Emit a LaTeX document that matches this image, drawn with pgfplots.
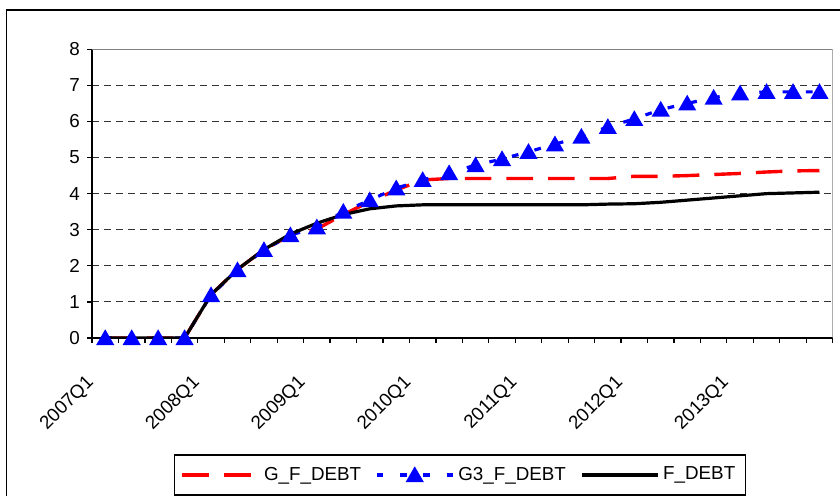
\documentclass[border=0pt]{standalone}
\usepackage{fontspec}
\setmainfont{Liberation Sans}
\usepackage{pgfplots}
\pgfplotsset{compat=1.18}
\definecolor{exred}{RGB}{255,0,0}
\definecolor{exblue}{RGB}{0,0,255}
\definecolor{exgray}{RGB}{128,128,128}
\begin{document}
\begin{tikzpicture}[x=1pt,y=1pt]
\useasboundingbox (0,0) rectangle (420,248);
\fill[white] (0,0) rectangle (420,248);
\draw[line width=0.6pt] (3.35,-5) -- (3.35,243) -- (425,243);
\begin{axis}[
  at={(46pt,79pt)}, anchor=south west,
  width=370.35pt, height=144.35pt, scale only axis,
  xmin=-0.5, xmax=27.5, ymin=0, ymax=8,
  axis x line*=bottom, axis y line*=left,
  axis line style={-, black, line width=0.6pt},
  xtick={-0.5,0.5,1.5,2.5,3.5,4.5,5.5,6.5,7.5,8.5,9.5,10.5,11.5,12.5,13.5,14.5,15.5,16.5,17.5,18.5,19.5,20.5,21.5,22.5,23.5,24.5,25.5,26.5,27.5},
  xticklabels={2007Q1,,,,2008Q1,,,,2009Q1,,,,2010Q1,,,,2011Q1,,,,2012Q1,,,,2013Q1,,,,},
  ytick={0,1,...,8},
  tick align=outside, major tick length=2.5pt,
  tick style={black, line width=0.6pt},
  ymajorgrids, grid style={black!80, line width=0.5pt, dash pattern=on 3.5pt off 2.5pt},
  tick label style={font=\fontsize{9.4}{11}\selectfont},
  /pgf/number format/assume math mode=true,
  xticklabel style={xshift=2pt, yshift=-16pt, rotate=45, anchor=east},
  legend columns=3,
  legend style={at={(axis description cs:0.1107,-0.403)}, anchor=north west,
    draw=black, line width=0.6pt, font=\fontsize{9.4}{11}\selectfont,
    inner xsep=3pt, inner ysep=4pt,
    /tikz/every even column/.append style={column sep=5pt}},
  legend image code/.code={\draw[mark repeat=2,mark phase=2,#1] plot coordinates {(0pt,0pt) (19pt,0pt) (38pt,0pt)};},
]
\addplot[exred, line width=1.7pt, dash pattern=on 13.3pt off 7.5pt] coordinates {
(0,0) (1,0) (2,0) (3,0) (4,1.2) (5,1.9) (6,2.45) (7,2.85) (8,3.02) (9,3.42)
(10,3.78) (11,4.1) (12,4.38) (13,4.42) (14,4.42) (15,4.42) (16,4.42) (17,4.42) (18,4.42) (19,4.42)
(20,4.48) (21,4.48) (22,4.5) (23,4.53) (24,4.56) (25,4.6) (26,4.63) (27,4.64)};
\addlegendentry{G\_F\_DEBT}
\addplot[exblue, line width=1.6pt, dash pattern=on 3.35pt off 8.3pt, mark=triangle*, mark size=3.65pt, mark options={solid, yshift=-0.9pt}] coordinates {
(0,0) (1,0) (2,0) (3,0) (4,1.19) (5,1.88) (6,2.44) (7,2.85) (8,3.07) (9,3.5)
(10,3.82) (11,4.15) (12,4.38) (13,4.57) (14,4.79) (15,4.96) (16,5.16) (17,5.37) (18,5.58) (19,5.85)
(20,6.07) (21,6.33) (22,6.5) (23,6.66) (24,6.78) (25,6.82) (26,6.82) (27,6.82)};
\addlegendentry{G3\_F\_DEBT}
\addplot[black, line width=1.6pt] coordinates {
(0,0) (1,0) (2,0) (3,0) (4,1.2) (5,1.9) (6,2.45) (7,2.88) (8,3.18) (9,3.42)
(10,3.58) (11,3.66) (12,3.69) (13,3.69) (14,3.69) (15,3.69) (16,3.69) (17,3.69) (18,3.69) (19,3.71)
(20,3.72) (21,3.76) (22,3.82) (23,3.88) (24,3.94) (25,4.0) (26,4.02) (27,4.04)};
\addlegendentry{F\_DEBT}
\addplot[forget plot, only marks, exblue, mark=triangle*, mark size=3.65pt, mark options={solid, yshift=-0.9pt}] coordinates {
(0,0) (1,0) (2,0) (3,0) (4,1.19) (5,1.88) (6,2.44) (7,2.85) (8,3.07) (9,3.5)
(10,3.82) (11,4.15) (12,4.38) (13,4.57) (14,4.79) (15,4.96) (16,5.16) (17,5.37) (18,5.58) (19,5.85)
(20,6.07) (21,6.33) (22,6.5) (23,6.66) (24,6.78) (25,6.82) (26,6.82) (27,6.82)};
\draw[exgray, line width=0.6pt] (rel axis cs:0,1) -- (rel axis cs:1,1) -- (rel axis cs:1,0);
\end{axis}
\end{tikzpicture}
\end{document}
